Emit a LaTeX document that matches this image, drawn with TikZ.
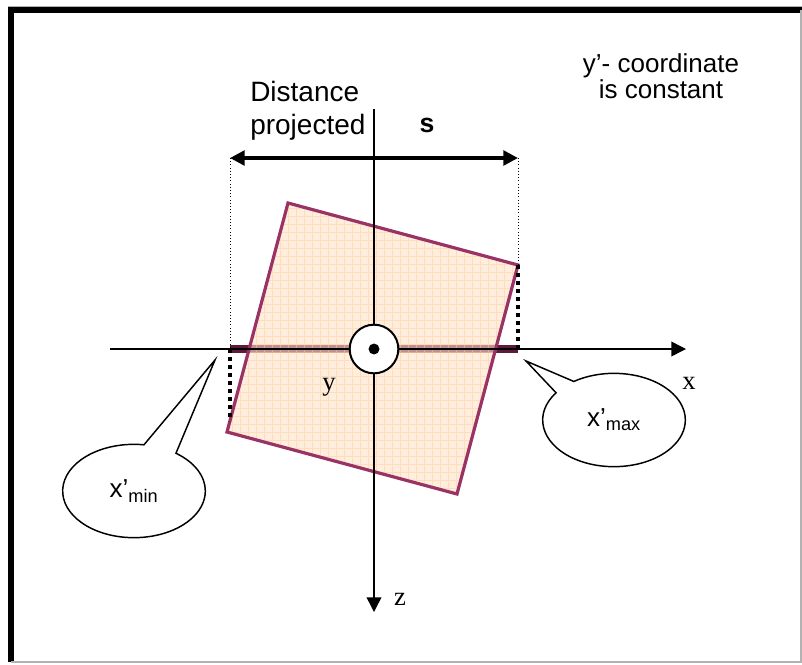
\documentclass[tikz,border=0pt]{standalone}
\usepackage{fontspec}
\setmainfont{Liberation Sans}
\newfontfamily\serifaxis{Liberation Serif}
\usetikzlibrary{arrows.meta,shapes.callouts}
\definecolor{plum}{RGB}{153,51,102}
\definecolor{peach}{RGB}{255,226,200}
\definecolor{peachgrid}{RGB}{255,204,153}
\definecolor{bardark}{RGB}{95,25,60}
\begin{document}
\begin{tikzpicture}[x=0.75pt, y=-0.75pt,
    axis/.style={line width=1.1pt, -{Triangle[length=11pt, width=11pt]}},
    thickdot/.style={line width=3pt, dash pattern=on 3pt off 3pt},
    thindot/.style={line width=0.7pt, dash pattern=on 0.8pt off 1.6pt},
    txt/.style={inner sep=0pt, font=\fontsize{19}{22}\selectfont},
    axlbl/.style={inner sep=0pt, font=\serifaxis\fontsize{20}{22}\selectfont},
    bubble/.style={ellipse callout, draw, line width=1.1pt, fill=white,
        inner sep=0pt, outer sep=0pt, minimum width=107pt, minimum height=70pt,
        font=\fontsize{19.5}{22}\selectfont}]
    \useasboundingbox (0,0) rectangle (802,664);
    % frame
    \draw[gray!60, line width=0.8pt] (8,7) -- (802,7);
    \draw[line width=4.5pt] (11,662) -- (11,10) -- (802,10);
    \draw[gray!60, line width=1.5pt] (11,661.5) -- (801,661.5) -- (801,10);
    % square corners and marks
    \coordinate (A) at (288,203);
    \coordinate (B) at (518,265);
    \coordinate (C) at (457,494);
    \coordinate (D) at (227,432);
    \coordinate (pmin) at (230,349);
    \coordinate (pmax) at (518,349);
    \coordinate (dl) at (230,421);
    \coordinate (al) at (230,158);
    \coordinate (ar) at (518,158);
    % projected bar
    \draw[bardark, line width=6pt] (pmin) -- (pmax);
    \fill[peach, fill opacity=0.6] (A) -- (B) -- (C) -- (D) -- cycle;
    \begin{scope}
        \clip (A) -- (B) -- (C) -- (D) -- cycle;
        \draw[peachgrid, line width=0.5pt, opacity=0.5, step=6pt] (220,190) grid (530,500);
    \end{scope}
    \draw[plum, line width=2.4pt] (A) -- (B) -- (C) -- (D) -- cycle;
    % axes
    \coordinate (xs) at (110,349);
    \coordinate (xe) at (686,349);
    \coordinate (zs) at (374,109);
    \coordinate (ze) at (374,612);
    \draw[axis] (xs) -- (xe);
    \draw[axis] (zs) -- (ze);
    \node[axlbl, anchor=base] (xlbl) at (689,389) {x};
    \node[axlbl, anchor=base] (zlbl) at (400,605) {z};
    \node[axlbl, anchor=base] (ylbl) at (329,390) {y};
    % y axis out of the page
    \node[circle, draw, line width=1.5pt, fill=white, minimum size=36.5pt, inner sep=0pt] (orig) at (374,349) {};
    \fill (orig.center) circle[radius=4.1pt];
    % projection lines
    \draw[thickdot] (pmin) -- (dl);
    \draw[thickdot] (B) -- (pmax);
    \draw[thindot] (al) -- (pmin);
    \draw[thindot] (ar) -- (B);
    \draw[line width=2.6pt, {Triangle[length=11pt, width=11pt]}-{Triangle[length=11pt, width=11pt]}] (al) -- (ar);
    % texts
    \node[txt, anchor=north west, align=left, font=\fontsize{21}{25}\selectfont] (dist) at (250,81) {Distance\\projected};
    \node[txt, anchor=base, font=\bfseries\fontsize{20}{22}\selectfont] (s) at (427,132) {s};
    \node[txt, anchor=north, align=center, font=\fontsize{19.5}{20}\selectfont] (note) at (661,53) {y’- coordinate\\is constant};
    % callouts
    \coordinate (tmin) at (215,360);
    \coordinate (tmax) at (526,361);
    \node[bubble, callout absolute pointer=(tmin), callout pointer arc=28] (xmin) at (134,491) {x’\textsubscript{min}};
    \node[bubble, callout absolute pointer=(tmax), callout pointer arc=20] (xmax) at (614,420) {x’\textsubscript{max}};
\end{tikzpicture}
\end{document}
